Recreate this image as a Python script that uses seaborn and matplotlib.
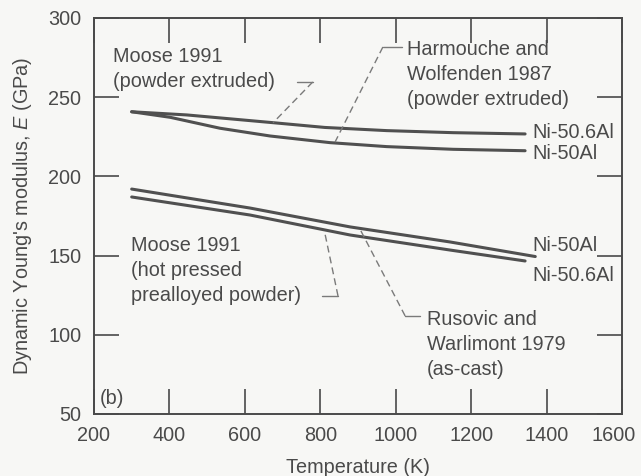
import numpy as np
import pandas as pd
import matplotlib
matplotlib.use("Agg")
import matplotlib.pyplot as plt
import matplotlib.transforms as mtransforms
import seaborn as sns

# values
# upper pair: Harmouche and Wolfenden 1987 / Moose 1991 (powder extruded)
hw_506_T = [300, 446, 675, 812, 976, 1152, 1343]
hw_506_E = [240.8, 238.8, 233.9, 230.9, 228.9, 227.6, 226.8]
hw_50_T = [300, 402, 534, 667, 826, 976, 1152, 1343]
hw_50_E = [240.8, 237.3, 230.4, 225.5, 221.3, 218.8, 217.1, 216.2]

# lower pair: Moose 1991 (hot pressed) / Rusovic and Warlimont 1979
rw_50_T = [300, 614, 879, 1144, 1370]
rw_50_E = [192.0, 180.0, 168.1, 158.6, 149.4]
rw_506_T = [300, 614, 879, 1144, 1343]
rw_506_E = [187.0, 175.6, 163.0, 153.5, 146.6]

x_ticks = [200, 400, 600, 800, 1000, 1200, 1400, 1600]
y_ticks = [50, 100, 150, 200, 250, 300]

sns.set_style("ticks")
plt.rcParams["font.family"] = ["Liberation Sans", "DejaVu Sans"]
plt.rcParams["mathtext.fontset"] = "custom"
plt.rcParams["mathtext.rm"] = "Liberation Sans"
plt.rcParams["mathtext.it"] = "Liberation Sans:italic"

bg = "#f7f7f5"
ink = "#4a4a4a"
line_col = "#505050"
lead_col = "#7a7a7a"
fs = 14.3

fig = plt.figure(figsize=(6.41, 4.76), dpi=100, facecolor=bg)
ax = fig.add_axes([0.1466, 0.1303, 0.8238, 0.8319])
ax.set_facecolor(bg)

series = [
    (hw_506_T, hw_506_E),
    (hw_50_T, hw_50_E),
    (rw_50_T, rw_50_E),
    (rw_506_T, rw_506_E),
]
for t, e in series:
    df = pd.DataFrame({"T": t, "E": e})
    sns.lineplot(data=df, x="T", y="E", ax=ax, color=line_col, linewidth=2.2,
                 sort=False, estimator=None)

ax.set_xlim(200, 1600)
ax.set_ylim(50, 300)
ax.set_xticks(x_ticks)
ax.set_yticks(y_ticks)
ax.tick_params(direction="in", length=18, width=1.2, color=ink,
               labelsize=fs, labelcolor=ink, pad=9,
               top=True, right=True)
for s in ax.spines.values():
    s.set_color(ink)
    s.set_linewidth(1.4)

# last x label sits a little left of its tick so it stays on the page
last = ax.get_xticklabels()[-1]
last.set_transform(last.get_transform() +
                   mtransforms.ScaledTranslation(-8 / 100, 0, fig.dpi_scale_trans))

ax.set_xlabel("Temperature (K)", fontsize=fs, color=ink, labelpad=9)
ax.set_ylabel("Dynamic Young's modulus, $\\mathit{E}$ (GPa)", fontsize=fs,
              color=ink, labelpad=10)


def note(text, x, y):
    ax.text(x, y, text, fontsize=fs, color=ink, ha="left", va="top",
            linespacing=1.4)


def leader(xs, ys):
    # short solid stub next to the text, dashed run to the curve
    ax.plot(xs[:2], ys[:2], color=lead_col, lw=1.0)
    ax.plot(xs[1:], ys[1:], color=lead_col, lw=1.0, ls=(0, (5, 3)))


note("Moose 1991\n(powder extruded)", 250, 282.0)
leader([738, 780, 675], [259.6, 259.6, 233.9])

note("Harmouche and\nWolfenden 1987\n(powder extruded)", 1030, 285.8)
leader([1017, 966, 839], [281.7, 281.7, 221.6])

note("Moose 1991\n(hot pressed\nprealloyed powder)", 298, 162.1)
leader([805, 847, 812], [124.5, 124.5, 164.3])

note("Rusovic and\nWarlimont 1979\n(as-cast)", 1083, 115.4)
leader([1064, 1025, 905], [111.9, 111.9, 166.8])

for txt, y in [("Ni-50.6Al", 227.9), ("Ni-50Al", 214.6),
               ("Ni-50Al", 156.5), ("Ni-50.6Al", 137.6)]:
    ax.text(1361, y, txt, fontsize=fs, color=ink, ha="left", va="center")

ax.text(216, 60, "(b)", fontsize=fs, color=ink, ha="left", va="center")

fig.savefig("out.png", dpi=100, facecolor=bg)
